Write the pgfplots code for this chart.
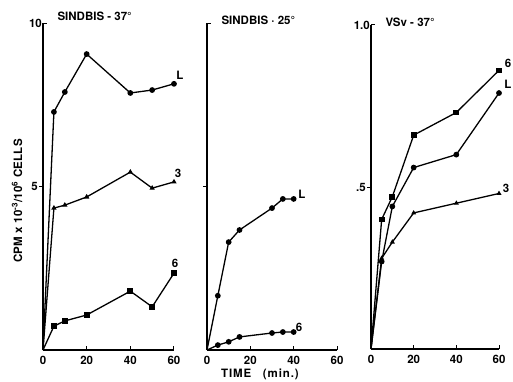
\documentclass[border=0pt]{standalone}
\usepackage{fontspec}
\setmainfont{TeX Gyre Heros}
\usepackage{pgfplots}
\pgfplotsset{compat=1.18}
\begin{document}
\begin{tikzpicture}
\useasboundingbox (0pt,0pt) rectangle (513pt,381pt);
\pgfplotsset{
 panel/.style={
  scale only axis, anchor=south west,
  xmin=0, xmax=60, ymin=0,
  axis x line*=bottom, axis y line*=left,
  axis line style={line width=1.2pt, -},
  xtick={0,20,40,60},
  tick style={line width=1pt, black},
  major tick length=4pt,
  tick align=outside,
  xtick style={yshift=4pt},
  tick label style={font=\fontsize{11.5}{11.5}\selectfont\bfseries},
  x tick label style={inner sep=2pt},
  y tick label style={inner sep=1pt},
  extra y tick style={tick align=inside},
  /pgf/number format/assume math mode=true,
  clip=false,
 },
 ser/.style={black, line width=1.3pt, mark indices={2,3,4,5,6,7}, mark options={solid, fill=black}},
}
% Panel 1
\begin{axis}[panel, at={(43pt,31pt)}, width=131pt, height=327pt, ymax=10,
  ytick={5}, yticklabels={5}, extra y ticks={10}, extra y tick labels={10}]
\addplot[ser, mark=*, mark size=2.2pt] coordinates {(0,0) (5,7.28) (10,7.89) (20,9.05) (40,7.86) (50,7.95) (60,8.14)};
\addplot[ser, mark=triangle*, mark size=1.8pt] coordinates {(0,0) (5,4.34) (10,4.43) (20,4.68) (40,5.44) (50,4.95) (60,5.14)};
\addplot[ser, mark=square*, mark size=2.2pt] coordinates {(0,0) (5,0.73) (10,0.89) (20,1.07) (40,1.80) (50,1.32) (60,2.35)};
\end{axis}
% Panel 2
\begin{axis}[panel, at={(207pt,31pt)}, width=130pt, height=327pt, ymax=10,
  ytick={5}, yticklabels={}, extra y ticks={10}, extra y tick labels={}]
\addplot[ser, mark=*, mark size=2.2pt] coordinates {(0,0) (5,1.66) (10,3.30) (15,3.67) (30,4.34) (35,4.62) (40,4.62)};
\addplot[ser, mark=*, mark size=2.2pt] coordinates {(0,0) (5,0.15) (10,0.25) (15,0.40) (30,0.52) (35,0.55) (40,0.55)};
\end{axis}
% Panel 3
\begin{axis}[panel, at={(371pt,32pt)}, width=128pt, height=324pt, ymax=1,
  ytick={0.5}, yticklabels={.5}, extra y ticks={1}, extra y tick labels={1.0}]
\addplot[ser, mark=square*, mark size=2.2pt] coordinates {(0,0) (5,0.40) (10,0.47) (20,0.66) (40,0.73) (60,0.86)};
\addplot[ser, mark=*, mark size=2.2pt] coordinates {(0,0) (5,0.27) (10,0.44) (20,0.56) (40,0.60) (60,0.79)};
\addplot[ser, mark=triangle*, mark size=1.6pt] coordinates {(0,0) (5,0.28) (10,0.33) (20,0.42) (40,0.45) (60,0.48)};
\end{axis}
% Titles
\begin{scope}[every node/.style={font=\fontsize{11.5}{11.5}\selectfont\bfseries}]
\node[anchor=west] at (54pt,365pt) {SINDBIS - 37°};
\node[anchor=west] at (218pt,361pt) {SINDBIS · 25°};
\node[anchor=west] at (382pt,359pt) {VSv - 37°};
% Axis labels
\node[rotate=90] at (17pt,180pt) {\addfontfeatures{LetterSpace=2}CPM x 10\textsuperscript{-3}/10\textsuperscript{6} CELLS};
\node[inner sep=1pt] at (260pt,7pt) {\addfontfeatures{LetterSpace=8}TIME\hspace{1em}(min.)};
% Series labels
\node at (180pt,306pt) {L};
\node at (178pt,208pt) {3};
\node at (175pt,118pt) {6};
\node at (302pt,187pt) {L};
\node at (299pt,54pt) {6};
\node at (508pt,318pt) {6};
\node at (508pt,297pt) {L};
\node at (506pt,193pt) {3};
\end{scope}
\end{tikzpicture}
\end{document}
